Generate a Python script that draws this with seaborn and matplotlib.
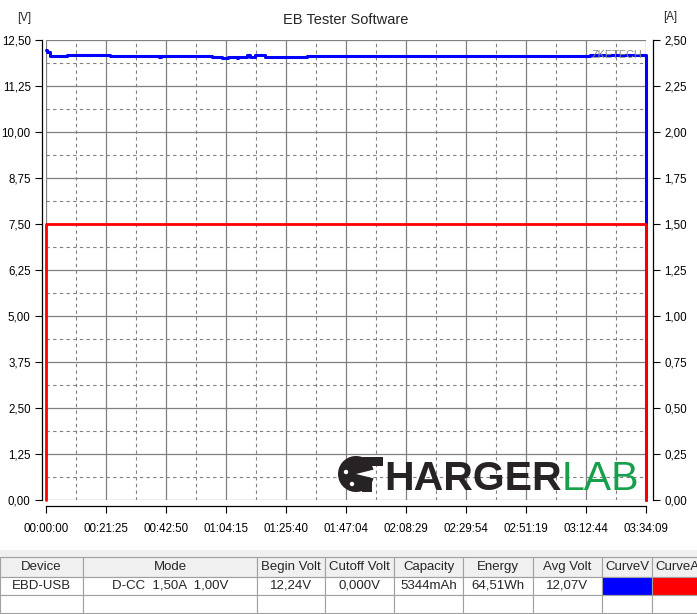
import numpy as np
import pandas as pd
import matplotlib
matplotlib.use("Agg")
import matplotlib.pyplot as plt
import seaborn as sns
from matplotlib.patches import Rectangle, Wedge, Circle
from matplotlib.transforms import IdentityTransform

# --- data ---
# time in seconds since start
volt_time = [0, 25, 86, 450, 1371, 2420, 2463, 3555, 3769, 3897, 4090, 4111,
             4304, 4369, 4476, 4690, 5590, 5654, 11650, 12849, 12849]
volt_vals = [12.24, 12.17, 12.07, 12.10, 12.07, 12.05, 12.07, 12.05, 12.01, 12.05, 12.02, 12.05,
             12.08, 12.05, 12.08, 12.05, 12.07, 12.07, 12.08, 12.08, 0.0]

curr_time = [0, 0, 12849, 12849]
curr_vals = [0.0, 1.50, 1.50, 0.0]

x_ticks = [0, 1285, 2570, 3855, 5140, 6424, 7709, 8994, 10279, 11564, 12849]
x_labels = ["00:00:00", "00:21:25", "00:42:50", "01:04:15", "01:25:40", "01:47:04",
            "02:08:29", "02:29:54", "02:51:19", "03:12:44", "03:34:09"]
v_ticks = [0.0, 1.25, 2.5, 3.75, 5.0, 6.25, 7.5, 8.75, 10.0, 11.25, 12.5]
v_labels = ["0,00", "1,25", "2,50", "3,75", "5,00", "6,25", "7,50", "8,75", "10,00", "11,25", "12,50"]
a_ticks = [0.0, 0.25, 0.5, 0.75, 1.0, 1.25, 1.5, 1.75, 2.0, 2.25, 2.5]
a_labels = ["0,00", "0,25", "0,50", "0,75", "1,00", "1,25", "1,50", "1,75", "2,00", "2,25", "2,50"]

table_header = ["Device", "Mode", "Begin Volt", "Cutoff Volt", "Capacity", "Energy",
                "Avg Volt", "CurveV", "CurveA"]
table_row = ["EBD-USB", "D-CC  1,50A  1,00V", "12,24V", "0,000V", "5344mAh", "64,51Wh",
             "12,07V", "", ""]

volt_df = pd.DataFrame({"t": volt_time, "v": volt_vals})
curr_df = pd.DataFrame({"t": curr_time, "a": curr_vals})

sns.set_style("white")
plt.rcParams["font.family"] = ["Liberation Sans", "DejaVu Sans"]

W, H = 697, 614
fig = plt.figure(figsize=(W / 100, H / 100), dpi=100)
ax = fig.add_axes([46 / W, (H - 500) / H, 600 / W, 460 / H])

grid_col = "#808080"
sns.lineplot(data=volt_df, x="t", y="v", ax=ax, color="#0000ff", lw=2.2,
             estimator=None, sort=False, drawstyle="steps-post", clip_on=False, zorder=5)
ax.set_xlim(0, 12849)
ax.set_ylim(0, 12.5)
ax.set_xticks(x_ticks, x_labels)
ax.set_yticks(v_ticks, v_labels)
ax.set_xticks([(a + b) / 2 for a, b in zip(x_ticks[:-1], x_ticks[1:])], minor=True)
ax.set_yticks([(a + b) / 2 for a, b in zip(v_ticks[:-1], v_ticks[1:])], minor=True)
ax.grid(which="major", color=grid_col, lw=0.9, ls="-")
ax.grid(which="minor", color=grid_col, lw=0.8, ls=(0, (3, 3)))
ax.set_axisbelow(True)
ax.set_xlabel("")
ax.set_ylabel("")
ax.tick_params(which="minor", length=0)
ax.tick_params(axis="y", which="major", direction="out", length=5, width=0.8,
               pad=3, labelsize=8.3, colors="black", left=True)
ax.tick_params(axis="x", which="major", direction="out", length=5, width=0.8,
               pad=7, labelsize=8.3, colors="black", bottom=True)
for s in ["top", "right"]:
    ax.spines[s].set_visible(False)
ax.spines["left"].set_position(("outward", 3))
ax.spines["bottom"].set_position(("outward", 4.3))
for s in ["left", "bottom"]:
    ax.spines[s].set_color("black")
    ax.spines[s].set_linewidth(0.9)

ax2 = ax.twinx()
sns.lineplot(data=curr_df, x="t", y="a", ax=ax2, color="#ff0000", lw=2.0,
             estimator=None, sort=False, clip_on=False, zorder=6)
ax2.set_ylim(0, 2.5)
ax2.set_yticks(a_ticks, a_labels)
ax2.set_ylabel("")
ax2.grid(False)
ax2.tick_params(axis="y", direction="out", length=5, width=0.8, pad=3,
                labelsize=8.3, colors="black", right=True)
for s in ["top", "left", "bottom"]:
    ax2.spines[s].set_visible(False)
ax2.spines["right"].set_position(("outward", 5))
ax2.spines["right"].set_color("black")
ax2.spines["right"].set_linewidth(0.9)

# texts
fig.text(346 / W, (H - 20) / H, "EB Tester Software", ha="center", va="center", fontsize=10.5)
fig.text(24 / W, (H - 18) / H, "[V]", ha="center", va="center", fontsize=8.3)
fig.text(670 / W, (H - 17) / H, "[A]", ha="center", va="center", fontsize=8.3)
fig.text(617 / W, (H - 55) / H, "ZKETECH", ha="center", va="center", fontsize=7.8,
         color="#8a8a8a", zorder=10)

# ChargerLab watermark
dark = "#272223"
px = IdentityTransform()
fig.patches.append(Wedge((356, H - 474), 18, 14, 346, facecolor=dark, edgecolor="none",
                         transform=px, figure=fig, zorder=8))
fig.patches.append(Rectangle((356, H - 466), 27, 9, facecolor=dark, edgecolor="none",
                             transform=px, figure=fig, zorder=8))
fig.patches.append(Rectangle((362, H - 492), 10, 14, facecolor=dark, edgecolor="none",
                             transform=px, figure=fig, zorder=8))
fig.patches.append(Circle((346, H - 472), 2.2, facecolor="white", edgecolor="none",
                          transform=px, figure=fig, zorder=9))
fig.patches.append(Circle((352, H - 484), 2.2, facecolor="white", edgecolor="none",
                          transform=px, figure=fig, zorder=9))
fig.text(384 / W, (H - 490) / H, "HARGER", ha="left", va="baseline", fontsize=29.5,
         fontweight="bold", color=dark, zorder=8)
fig.text(562 / W, (H - 490) / H, "LAB", ha="left", va="baseline", fontsize=29.5,
         color="#17a04c", zorder=8)

# table area
fig.patches.append(Rectangle((0, 0), 1, (H - 550) / H, transform=fig.transFigure,
                             facecolor="#f0f0f0", edgecolor="none", figure=fig, zorder=-1))
col_w = [83, 174, 68, 69, 69, 70, 69, 50, 50]
tax = fig.add_axes([0, 1 / H, sum(col_w) / W, 56 / H])
tax.axis("off")
cell_colours = [["#f0f0f0"] * 9,
                ["white"] * 7 + ["#0000ff", "#ff0000"],
                ["white"] * 9]
tbl = tax.table(cellText=[table_header, table_row, [""] * 9], cellColours=cell_colours,
                colWidths=[c / sum(col_w) for c in col_w], cellLoc="center",
                bbox=[0, 0, 1, 1])
tbl.auto_set_font_size(False)
tbl.set_fontsize(9.5)
for (r, c), cell in tbl.get_celld().items():
    cell.set_edgecolor("#a0a0a0")
    cell.set_linewidth(0.8)
    cell.set_height(20 / 56 if r == 0 else 18 / 56)

fig.savefig("out.png", dpi=100)
